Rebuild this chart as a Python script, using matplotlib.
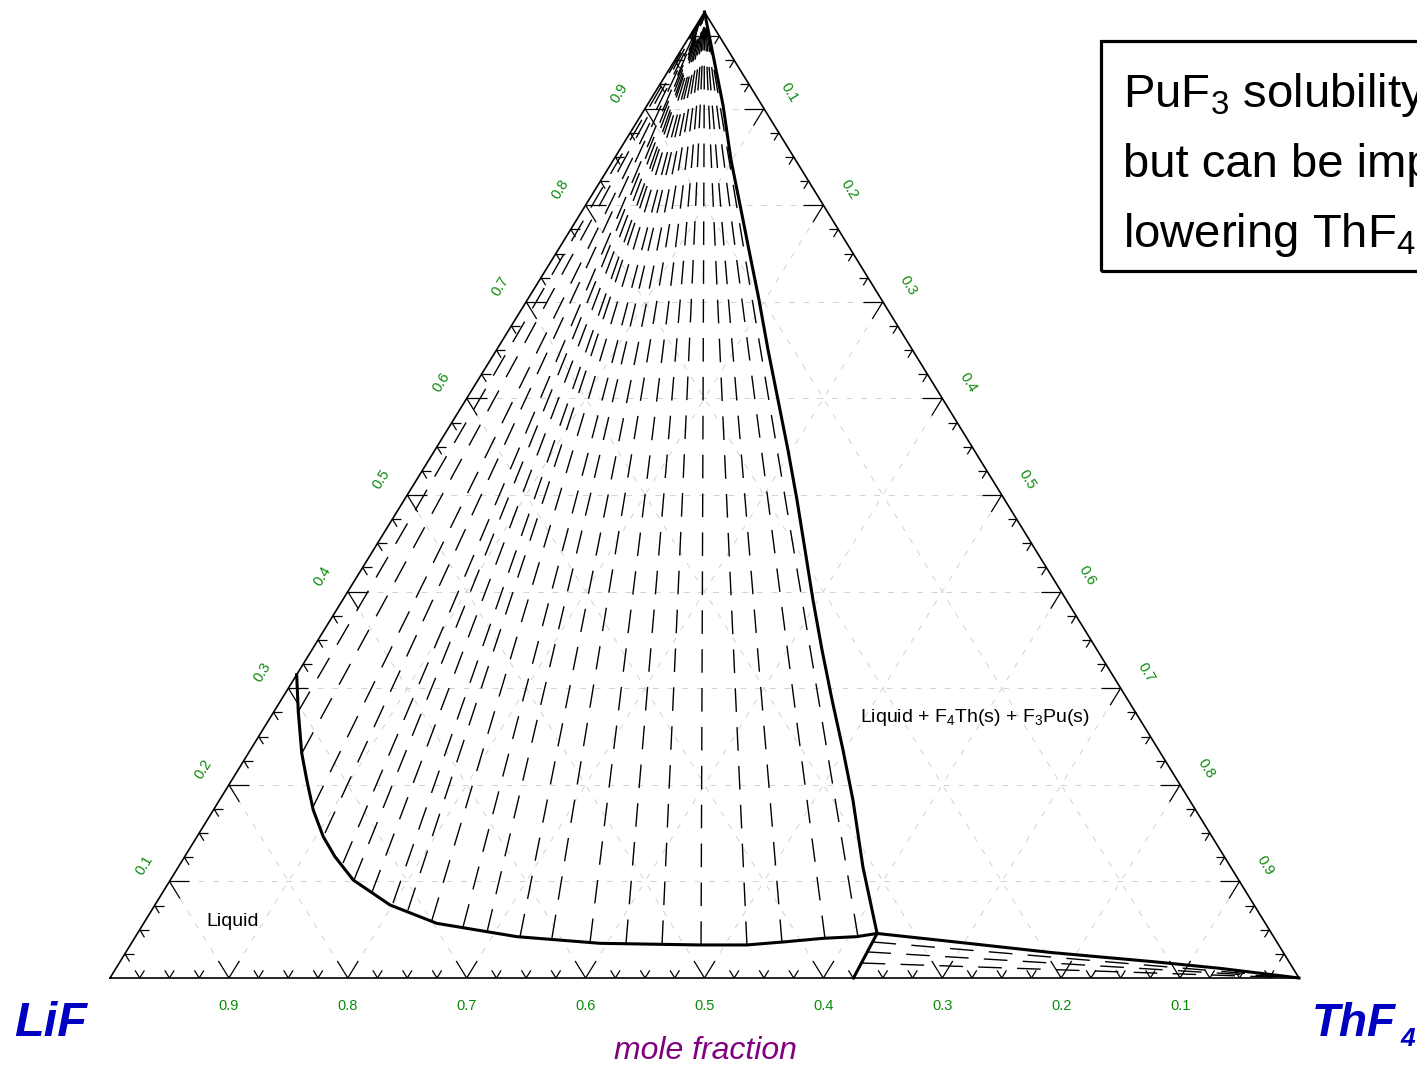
import matplotlib
matplotlib.use('Agg')
import matplotlib.pyplot as plt
import numpy as np
from matplotlib.patches import Rectangle
from matplotlib.collections import LineCollection

plt.rcParams['font.family'] = ['Liberation Sans', 'DejaVu Sans']
plt.rcParams['mathtext.fontset'] = 'custom'
plt.rcParams['mathtext.rm'] = 'Liberation Sans'
plt.rcParams['mathtext.it'] = 'Liberation Sans:italic'
plt.rcParams['mathtext.bf'] = 'Liberation Sans:bold'

# ---------------- data (mole fractions: ThF4, PuF3) ----------------
# Liquidus: Liquid / Liquid + PuF3(s)
liquidus_thf4 = [0.000, 0.0205, 0.0448, 0.0630, 0.0840, 0.1062, 0.1264, 0.1539, 0.1977,
                 0.2465, 0.3207, 0.3942, 0.4791, 0.5184, 0.5503, 0.5794, 0.6066, 0.6221]
liquidus_puf3 = [0.314, 0.2757, 0.2329, 0.2050, 0.1739, 0.1463, 0.1256, 0.1014, 0.0756,
                 0.0566, 0.0428, 0.0359, 0.0342, 0.0342, 0.0376, 0.0411, 0.0428, 0.0461]

# Boundary from the junction up to the PuF3 corner
upper_thf4 = [0.6221, 0.5988, 0.5758, 0.5327, 0.4985, 0.4634, 0.4291, 0.3956, 0.3630, 0.3304,
              0.2969, 0.2627, 0.2284, 0.1949, 0.1606, 0.1298, 0.0989, 0.0637, 0.0329, 0.0]
upper_puf3 = [0.0461, 0.0807, 0.1149, 0.1843, 0.2360, 0.2878, 0.3395, 0.3913, 0.4431, 0.4948,
              0.5466, 0.5983, 0.6501, 0.7019, 0.7536, 0.8002, 0.8468, 0.9037, 0.9503, 1.0]

# Liquidus: Liquid / Liquid + ThF4(s) (junction to LiF-ThF4 binary)
thf4_liq_thf4 = [0.6221, 0.6253]
thf4_liq_puf3 = [0.0461, 0.0]

# Boundary from junction to the ThF4 corner
lower_thf4 = [0.6221, 0.6902, 0.7800, 0.8688, 0.9286, 1.0]
lower_puf3 = [0.0461, 0.0376, 0.0262, 0.0169, 0.0100, 0.0]

# Tie lines Liquid + PuF3(s): liquid ends (other end = PuF3 corner)
tie_pu_thf4 = [0.0204, 0.0450, 0.0822, 0.1058, 0.1365, 0.1545, 0.1759, 0.1992, 0.2154, 0.2408,
               0.2705, 0.2933, 0.3236, 0.3510, 0.3851, 0.4159, 0.4467, 0.4800, 0.5186, 0.5471,
               0.5812, 0.6079]
tie_pu_puf3 = [0.2754, 0.2329, 0.1770, 0.1501, 0.1190, 0.1014, 0.0890, 0.0776, 0.0704, 0.0600,
               0.0528, 0.0476, 0.0424, 0.0414, 0.0373, 0.0362, 0.0352, 0.0342, 0.0342, 0.0362,
               0.0404, 0.0424]

# Tie lines Liquid + ThF4(s): liquid ends (other end = ThF4 corner)
tie_th_thf4 = [0.6227, 0.6235, 0.6244]
tie_th_puf3 = [0.0373, 0.0270, 0.0155]

axis_ticks = [0.1, 0.2, 0.3, 0.4, 0.5, 0.6, 0.7, 0.8, 0.9]
bottom_labels = ['0.9', '0.8', '0.7', '0.6', '0.5', '0.4', '0.3', '0.2', '0.1']
left_labels = ['0.1', '0.2', '0.3', '0.4', '0.5', '0.6', '0.7', '0.8', '0.9']
right_labels = ['0.1', '0.2', '0.3', '0.4', '0.5', '0.6', '0.7', '0.8', '0.9']

# ---------------- figure ----------------
W, H = 1417, 1066
fig = plt.figure(figsize=(W / 100, H / 100), dpi=100)
fig.patch.set_facecolor('white')
X0, Y0, XW, YH = 110, 978, 1189, 966
ax = fig.add_axes([X0 / W, (H - Y0) / H, XW / W, YH / H])
ax.set_xlim(0, 1)
ax.set_ylim(0, 1)
ax.axis('off')

EDGE = np.hypot(XW / 2, YH)  # edge length in px for slanted edges
Lv, Rv, Tv = np.array([0., 0.]), np.array([1., 0.]), np.array([0.5, 1.])


def tern(b, c):
    b = np.asarray(b, float)
    c = np.asarray(c, float)
    return b + c / 2, c


# grid
gsty = dict(color='#d2d2d2', lw=0.7, dashes=(6, 9), zorder=1)
for t in axis_ticks:
    ax.plot([t / 2, 1 - t / 2], [t, t], **gsty)                 # PuF3 = t
    ax.plot([t, t + (1 - t) / 2], [0, 1 - t], **gsty)           # ThF4 = t
    ax.plot([t, t / 2], [0, t], **gsty)                         # LiF = 1-t

# triangle
ax.plot([0, 1, 0.5, 0], [0, 0, 1, 0], color='black', lw=1.2, zorder=5, clip_on=False,
        solid_joinstyle='miter')

# ticks
segs = []
for k in range(1, 40):
    t = k / 40
    ln = 20 if k % 4 == 0 else 9
    fe = ln / EDGE
    fh = ln / XW
    p = np.array([t, 0.])
    segs.append([p, p + (Tv - Lv) * fe])
    segs.append([p, p + (Tv - Rv) * fe])
    p = Lv + (Tv - Lv) * t
    segs.append([p, p + (Rv - Lv) * fh])
    segs.append([p, p + (Rv - Tv) * fe])
    p = Tv + (Rv - Tv) * t
    segs.append([p, p + (Lv - Rv) * fh])
    segs.append([p, p + (Lv - Tv) * fe])
ax.add_collection(LineCollection(segs, colors='black', linewidths=0.9, zorder=5))

# tick labels
green = '#0a8a0a'
nf = ['Liberation Sans Narrow', 'Liberation Sans']
tfs = 10.5
ang = np.degrees(np.arctan2(YH, XW / 2))
nx, ny = YH / EDGE, (XW / 2) / EDGE
off = 30
for t, lab in zip(axis_ticks, bottom_labels):
    ax.text(t, -28 / YH, lab, color=green, fontsize=tfs, ha='center', va='center', family=nf)
for t, lab in zip(axis_ticks, left_labels):
    x, y = tern(0, t)
    ax.text(x - nx * off / XW, y + ny * off / YH, lab, color=green, fontsize=tfs,
            rotation=ang, ha='center', va='center', family=nf, rotation_mode='anchor')
for t, lab in zip(axis_ticks, right_labels):
    x, y = tern(t, 1 - t)
    ax.text(x + nx * off / XW, y + ny * off / YH, lab, color=green, fontsize=tfs,
            rotation=-ang, ha='center', va='center', family=nf, rotation_mode='anchor')

# tie lines (Liquid + PuF3)
for b, c in zip(tie_pu_thf4, tie_pu_puf3):
    x, y = tern([b, 0.0], [c, 1.0])
    ax.plot(x, y, color='black', lw=1.0, dashes=(17, 11), zorder=3)
# tie lines (Liquid + ThF4)
for b, c in zip(tie_th_thf4, tie_th_puf3):
    x, y = tern([b, 1.0], [c, 0.0])
    ax.plot(x, y, color='black', lw=1.0, dashes=(17, 11), zorder=3)

# phase boundaries
bsty = dict(color='black', lw=2.2, zorder=6, solid_joinstyle='round', clip_on=False)
ax.plot(*tern(liquidus_thf4, liquidus_puf3), **bsty)
ax.plot(*tern(upper_thf4, upper_puf3), **bsty)
ax.plot(*tern(thf4_liq_thf4, thf4_liq_puf3), **bsty)
ax.plot(*tern(lower_thf4, lower_puf3), **bsty)


def fx(px):
    return px / W


def fy(py):
    return 1 - py / H


# region labels
fig.text(fx(206), fy(922), 'Liquid', fontsize=14, ha='left', va='center')
fig.text(fx(860), fy(718), r'Liquid + F$_4$Th(s) + F$_3$Pu(s)', fontsize=14,
         ha='left', va='center')

# component labels
blue = '#0000c0'
fig.text(fx(14), fy(1036), 'LiF', fontsize=35, color=blue, fontweight='bold',
         fontstyle='italic', ha='left', va='baseline')
fig.text(fx(1312), fy(1036), 'ThF', fontsize=33, color=blue, fontweight='bold',
         fontstyle='italic', ha='left', va='baseline')
fig.text(fx(1400), fy(1046), '4', fontsize=19, color=blue, fontweight='bold',
         fontstyle='italic', ha='left', va='baseline')
fig.text(fx(705), fy(1051), 'mole fraction', fontsize=23, color='#800080',
         fontstyle='italic', ha='center', va='center')

# annotation box (partly outside the figure, as in the original)
fig.add_artist(Rectangle((fx(1101), fy(271)), (1500 - 1101) / W, (271 - 41) / H,
                         transform=fig.transFigure, fill=False, lw=2.3, ec='black'))
box_lines = [r'PuF$_3$ solubility', 'but can be improved', r'lowering ThF$_4$']
for i, s in enumerate(box_lines):
    fig.text(fx(1123), fy(107 + 70 * i), s, fontsize=34, ha='left', va='baseline')

fig.savefig('out.png', dpi=100)
